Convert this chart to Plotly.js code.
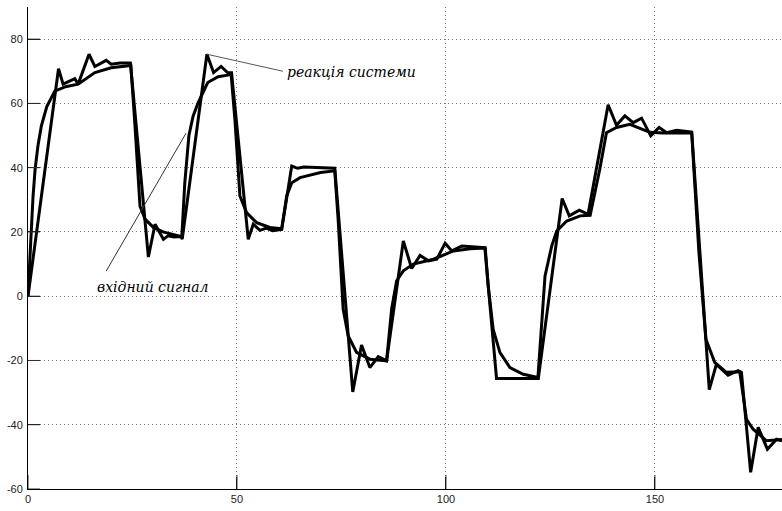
<!DOCTYPE html>
<html>
<head>
<meta charset="utf-8">
<script src="https://cdn.plot.ly/plotly-3.0.1.min.js"></script>
<style>html,body{margin:0;padding:0;background:#fff;}#chart{width:782px;height:511px;}</style>
</head>
<body>
<div id="chart"></div>
<script>
// smooth curve (вхідний сигнал)
const signalX = [0,0.4,0.8,1.2,1.7,2.4,3.2,4.5,6.4,9,12,16,19.9,23.9,24.6,25.5,26.8,28,30,32.3,35,36.8,
  37.5,38.5,39.5,40.7,43,45.5,47.8,48.6,
  49.5,50.7,52.3,54.7,57.9,60.7,
  61.9,63.1,65.1,67.5,70,73.4,
  74.2,75.4,76.6,78.6,81.8,85.8,
  87,88.2,89.8,92.2,97,101.8,105.8,109.4,
  110.1,111.3,112.9,115.3,118.5,122,
  123.7,125.3,126.5,128.9,132.1,134.5,
  136.8,138.4,140.8,144,148.8,152,158.8,
  160.5,162.2,164.3,167.1,170.3,
  171.9,173.5,176.7,180.4];
const signalY = [0,12,22,31,39.5,47,53,59,63.8,65.2,66,69.6,71.1,71.8,71.8,55,28,24,21.4,20,19,18.5,
  35,50,56,60.2,66.5,68.3,68.8,69,
  55,31.2,26,22.9,21.4,21,
  31.2,35.3,36.9,37.6,38.5,39,
  24,-4,-12.3,-17.5,-19.6,-20.1,
  -4,4.8,7.9,10,11.5,14.1,14.8,15,
  3.2,-10.3,-17.5,-22.2,-24.3,-25.3,
  6.3,15.6,20.3,23.4,25,25.2,
  39.5,50.9,52.5,53.5,51,50.8,50.8,
  14,-13.4,-20.6,-23.7,-23.5,
  -38.3,-41.4,-45,-44.6];

// oscillating curve (реакція системи)
const responseX = [0,7.3,8.4,11.2,12,14.6,16,18.7,19.9,22,24.5,28.8,30.4,32.4,33.5,34.9,36.5,36.9,
  42.8,44.4,46.2,47.8,48.7,52.7,53.9,55.5,57,58.5,60.7,63.1,64.5,66,73.4,
  77.7,79.8,81.8,83.8,85.8,89.8,91.8,93.8,95.8,97.8,99.8,101.4,103.8,109.3,
  112.1,122.1,127.8,129.5,131.9,134,138.8,140.8,142.8,144.8,146.8,149,151,152.8,155.2,158.8,
  163,164.7,167.5,169.9,170.7,172.9,174.7,176.9,179.1,180.4];
const responseY = [0,70.8,66,67.7,66,75.3,71.5,73.4,72.2,72.6,72.6,12.2,22.4,17.7,18.8,18.4,18.6,17.8,
  75.3,69.6,71.5,69.5,69.5,17.7,22.4,20.5,21.2,20.4,20.8,40.5,39.8,40.2,39.8,
  -29.8,-15.2,-22.2,-18.8,-20.1,17.2,8.6,12.7,11,11.5,16.5,14.1,15.6,15.1,
  -25.6,-25.6,30.4,25,26.8,25.5,59.6,53.2,56.1,54,55.4,49.9,52.5,50.9,51.6,51.1,
  -29.1,-21.2,-24.6,-23.2,-23.7,-54.8,-40.8,-47.6,-44.5,-45];

const xTicks = [0,50,100,150];
const yTicks = [-60,-40,-20,0,20,40,60,80];
const labelResponse = 'реакція системи';
const labelSignal = 'вхідний сигнал';

const traces = [
  {x: signalX, y: signalY, mode: 'lines', line: {color: '#000', width: 3}, name: labelSignal, hoverinfo: 'skip'},
  {x: responseX, y: responseY, mode: 'lines', line: {color: '#000', width: 3}, name: labelResponse, hoverinfo: 'skip'}
];

const axisCommon = {
  showline: true, linecolor: '#000', linewidth: 1, mirror: false,
  ticks: 'inside', ticklen: 12, tickcolor: '#000', tickwidth: 1,
  showgrid: true, gridcolor: '#777', griddash: '1px,3px', gridwidth: 1,
  zeroline: false,
  tickfont: {family: 'Arial, Liberation Sans, sans-serif', size: 11, color: '#222'},
  fixedrange: true
};

// inward tick marks drawn as short lines at the tick values
const tickShapes = yTicks.map(v => ({type: 'line', xref: 'x domain', yref: 'y', x0: 0, x1: 0.016, y0: v, y1: v,
    line: {color: '#333', width: 1}}))
  .concat(xTicks.map(v => ({type: 'line', xref: 'x', yref: 'y domain', x0: v, x1: v, y0: 0, y1: 0.029,
    line: {color: '#333', width: 1}})));

const layout = {
  width: 782, height: 511,
  margin: {l: 28, r: 0, t: 7, b: 22},
  paper_bgcolor: '#fff', plot_bgcolor: '#fff',
  showlegend: false,
  xaxis: Object.assign({}, axisCommon, {range: [0, 180.4], tickvals: xTicks, ticktext: xTicks.map(String)}),
  yaxis: Object.assign({}, axisCommon, {range: [-60, 90], tickvals: yTicks, ticktext: yTicks.map(String), ticklabelstandoff: 2}),
  shapes: tickShapes.concat([
    {type: 'line', xref: 'x', yref: 'y', x0: 42.8, y0: 75.3, x1: 61.0, y1: 70.0, line: {color: '#555', width: 1}},
    {type: 'line', xref: 'x', yref: 'y', x0: 18.7, y0: 7.8, x1: 37.8, y1: 50.7, line: {color: '#333', width: 1}}
  ]),
  annotations: [
    {x: 61.5, y: 69.8, xref: 'x', yref: 'y', text: labelResponse, showarrow: false, xanchor: 'left', yanchor: 'middle',
     font: {family: 'DejaVu Serif, serif', size: 14, color: '#000', style: 'italic'}},
    {x: 16, y: 2.8, xref: 'x', yref: 'y', text: labelSignal, showarrow: false, xanchor: 'left', yanchor: 'middle',
     font: {family: 'DejaVu Serif, serif', size: 14, color: '#000', style: 'italic'}}
  ]
};

Plotly.newPlot('chart', traces, layout, {displayModeBar: false, staticPlot: true});
</script>
</body>
</html>
